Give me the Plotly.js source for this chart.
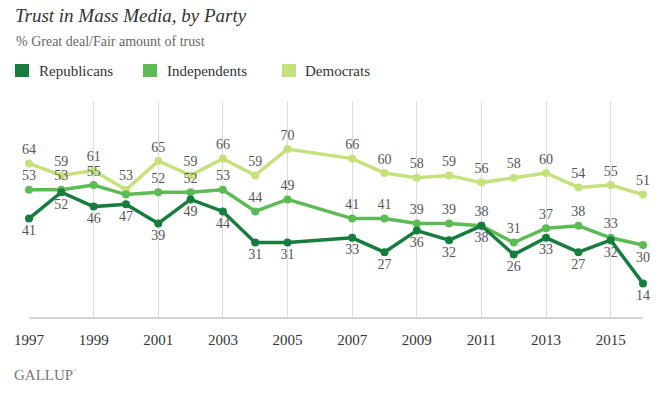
<!DOCTYPE html>
<html>
<head>
<meta charset="utf-8">
<script src="https://cdn.plot.ly/plotly-3.0.1.min.js"></script>
<style>html,body{margin:0;padding:0;background:#fff;}#chart{width:672px;height:394px;}</style>
</head>
<body>
<div id="chart"></div>
<script>
var years = [1997,1998,1999,2000,2001,2002,2003,2004,2005,2007,2008,2009,2010,2011,2012,2013,2014,2015,2016];
var republicans = [41,52,46,47,39,49,44,31,31,33,27,36,32,38,26,33,27,32,14];
var independents = [53,53,55,51,52,52,53,44,49,41,41,39,39,38,31,37,38,33,30];
var democrats = [64,59,61,53,65,59,66,59,70,66,60,58,59,56,58,60,54,55,51];
var tickYears = [1997,1999,2001,2003,2005,2007,2009,2011,2013,2015];
var unlabeledIndependentYears = [2000];
var seriesNames = ['Republicans','Independents','Democrats'];
var colors = ['#177d3e','#5dbb55','#c4e17b'];

var W = 672, H = 394, L = 29, R = 29, T = 101, B = 77;
var pw = W - L - R, ph = H - T - B;
function px(x){ return (x - L) / pw; }
function py(y){ return (H - B - y) / ph; }

var serif = 'Liberation Serif, DejaVu Serif, serif';
var labelFont = {family: serif, size: 14, color: '#555'};

function mk(name, vals, color, pos, skip){
  skip = skip || [];
  var keep = years.map(function(y){ return skip.indexOf(y) < 0; });
  return {
    type: 'scatter', mode: 'lines+markers+text', name: name,
    x: years, y: vals,
    text: vals.map(function(v,i){ return keep[i] ? String(v) : ' '; }),
    textposition: pos,
    textfont: labelFont,
    line: {color: color, width: 3.5},
    marker: {color: color, size: 8},
    cliponaxis: false,
    hoverinfo: 'skip',
    showlegend: false
  };
}

var indPos = years.map(function(y){ return y === 2016 ? 'bottom center' : 'top center'; });
var traces = [
  mk(seriesNames[2], democrats, colors[2], 'top center'),
  mk(seriesNames[1], independents, colors[1], indPos, unlabeledIndependentYears),
  mk(seriesNames[0], republicans, colors[0], 'bottom center')
];

var legendX = [15, 143, 282];
var legendTextX = [37, 165, 303];
var shapes = [], annotations = [];
for (var i = 0; i < 3; i++) {
  shapes.push({type:'rect', xref:'paper', yref:'paper',
    x0: px(legendX[i]), x1: px(legendX[i] + 14), y0: py(77), y1: py(64),
    fillcolor: colors[i], line:{width:0}});
  annotations.push({xref:'paper', yref:'paper', x: px(legendTextX[i]), y: py(70.5),
    xanchor:'left', yanchor:'middle', showarrow:false, text: seriesNames[i],
    font:{family: serif, size: 15, color:'#333'}});
}
annotations.push({xref:'paper', yref:'paper', x: px(14), y: py(41),
  xanchor:'left', yanchor:'middle', showarrow:false,
  text:'% Great deal/Fair amount of trust',
  font:{family: serif, size: 14, color:'#666'}});
annotations.push({xref:'paper', yref:'paper', x: px(12), y: py(375),
  xanchor:'left', yanchor:'middle', showarrow:false,
  text:'GALLUP',
  font:{family: serif, size: 15, color:'#777'}});
annotations.push({xref:'paper', yref:'paper', x: px(71), y: py(370),
  xanchor:'left', yanchor:'middle', showarrow:false,
  text:'®',
  font:{family: serif, size: 5, color:'#999'}});

var layout = {
  width: W, height: H,
  margin: {l: L, r: R, t: T, b: B, pad: 0},
  paper_bgcolor: '#fff', plot_bgcolor: '#fff',
  title: {text: '<i>Trust in Mass Media, by Party</i>', x: 15/W, xanchor: 'left', xref: 'container',
    y: 1 - 15/H, yanchor: 'middle', yref: 'container',
    font: {family: serif, size: 19, color: '#333'}},
  xaxis: {range: [1997, 2016], tickvals: tickYears, ticktext: tickYears.map(String),
    showgrid: true, gridcolor: '#dcdcdc', gridwidth: 1,
    showline: true, linecolor: '#d4d4d4', linewidth: 2,
    zeroline: false, ticks: '', ticklabelstandoff: 8,
    tickfont: {family: serif, size: 15, color: '#333'}, fixedrange: true},
  yaxis: {range: [0, 90], showgrid: false, showticklabels: false, zeroline: false,
    showline: false, ticks: '', fixedrange: true},
  shapes: shapes, annotations: annotations,
  showlegend: false
};

Plotly.newPlot('chart', traces, layout, {displayModeBar: false, staticPlot: true});
</script>
</body>
</html>
